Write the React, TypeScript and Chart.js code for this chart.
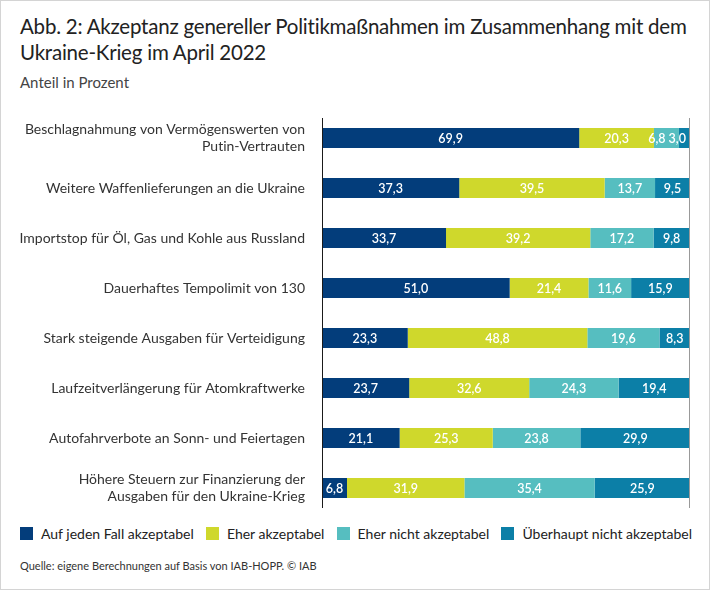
import React, { useEffect, useRef } from "react";
import { Chart, registerables } from "chart.js";

Chart.register(...registerables);

const FONT = "Lato, 'Open Sans', sans-serif";

const titleText = "Abb. 2: Akzeptanz genereller Politikmaßnahmen im Zusammenhang mit dem Ukraine-Krieg im April 2022";
const subtitleText = "Anteil in Prozent";
const sourceText = "Quelle: eigene Berechnungen auf Basis von IAB-HOPP. © IAB";

const categories: string[][] = [
  ["Beschlagnahmung von Vermögenswerten von", "Putin-Vertrauten"],
  ["Weitere Waffenlieferungen an die Ukraine"],
  ["Importstop für Öl, Gas und Kohle aus Russland"],
  ["Dauerhaftes Tempolimit von 130"],
  ["Stark steigende Ausgaben für Verteidigung"],
  ["Laufzeitverlängerung für Atomkraftwerke"],
  ["Autofahrverbote an Sonn- und Feiertagen"],
  ["Höhere Steuern zur Finanzierung der", "Ausgaben für den Ukraine-Krieg"],
];

const seriesNames = [
  "Auf jeden Fall akzeptabel",
  "Eher akzeptabel",
  "Eher nicht akzeptabel",
  "Überhaupt nicht akzeptabel",
];
const seriesColors = ["#033d7b", "#cfd82c", "#56bec0", "#0c7fa7"];

const aufJedenFall = [69.9, 37.3, 33.7, 51.0, 23.3, 23.7, 21.1, 6.8];
const eherAkzeptabel = [20.3, 39.5, 39.2, 21.4, 48.8, 32.6, 25.3, 31.9];
const eherNicht = [6.8, 13.7, 17.2, 11.6, 19.6, 24.3, 23.8, 35.4];
const ueberhauptNicht = [3.0, 9.5, 9.8, 15.9, 8.3, 19.4, 29.9, 25.9];

const seriesValues = [aufJedenFall, eherAkzeptabel, eherNicht, ueberhauptNicht];

const fmt = (v: number) => v.toFixed(1).replace(".", ",");

const labelPlugin = {
  id: "segLabels",
  afterDatasetsDraw(chart: any) {
    const ctx = chart.ctx;
    const right = chart.chartArea.right;
    ctx.save();
    ctx.fillStyle = "#ffffff";
    ctx.font = `600 12.5px ${FONT}`;
    ctx.textAlign = "center";
    ctx.textBaseline = "middle";
    const n = chart.data.labels.length;
    for (let i = 0; i < n; i++) {
      const items: { text: string; cx: number; w: number; y: number }[] = [];
      chart.data.datasets.forEach((ds: any, di: number) => {
        const el = chart.getDatasetMeta(di).data[i];
        const text = fmt(ds.data[i]);
        items.push({ text, cx: (el.x + el.base) / 2, w: ctx.measureText(text).width, y: el.y });
      });
      // keep inside right edge and avoid overlaps
      for (let k = items.length - 1; k >= 0; k--) {
        const it = items[k];
        const limit = k === items.length - 1 ? right - 4 : items[k + 1].cx - items[k + 1].w / 2 - 3;
        if (it.cx + it.w / 2 > limit) it.cx = limit - it.w / 2;
      }
      items.forEach((it) => ctx.fillText(it.text, it.cx, it.y + 0.5));
    }
    ctx.restore();
  },
};

const axisLinesPlugin = {
  id: "axisLines",
  afterDraw(chart: any) {
    const { ctx, chartArea } = chart;
    ctx.save();
    ctx.lineWidth = 1;
    ctx.strokeStyle = "#999999";
    ctx.beginPath();
    ctx.moveTo(Math.round(chartArea.right) - 0.5, chartArea.top + 5);
    ctx.lineTo(Math.round(chartArea.right) - 0.5, chartArea.bottom - 5);
    ctx.stroke();
    ctx.strokeStyle = "#1a1a1a";
    ctx.beginPath();
    ctx.moveTo(Math.round(chartArea.left) + 0.5, chartArea.top + 5);
    ctx.lineTo(Math.round(chartArea.left) + 0.5, chartArea.bottom - 5);
    ctx.stroke();
    ctx.restore();
  },
};

export default function App() {
  const ref = useRef<HTMLCanvasElement | null>(null);

  useEffect(() => {
    if (!ref.current) return;
    const chart = new Chart(ref.current, {
      type: "bar",
      data: {
        labels: categories,
        datasets: seriesNames.map((name, i) => ({
          label: name,
          data: seriesValues[i],
          backgroundColor: seriesColors[i],
          borderWidth: 0,
          barPercentage: 0.4,
          categoryPercentage: 1,
        })),
      },
      options: {
        indexAxis: "y",
        responsive: false,
        animation: false,
        layout: { padding: { left: 0, right: 20, top: 0, bottom: 0 } },
        plugins: {
          legend: { display: false },
          tooltip: { enabled: false },
          title: { display: false },
        },
        scales: {
          x: {
            stacked: true,
            min: 0,
            max: 100,
            display: false,
          },
          y: {
            stacked: true,
            grid: { display: false, drawTicks: false },
            border: { display: false },
            afterFit: (s: any) => {
              s.width = 322;
              s.paddingTop = 0;
              s.paddingBottom = 0;
            },
            ticks: {
              padding: 17,
              color: "#333333",
              font: { family: FONT, size: 14, lineHeight: 1.22 },
            },
          },
        },
      },
      plugins: [labelPlugin, axisLinesPlugin],
    } as any);
    return () => chart.destroy();
  }, []);

  return (
    <div
      style={{
        position: "fixed",
        left: 0,
        top: 0,
        width: 710,
        height: 590,
        background: "#ffffff",
        fontFamily: FONT,
        overflow: "hidden",
        fontVariantLigatures: "none",
      }}
    >
      <div
        style={{
          position: "absolute",
          left: 20,
          top: 13,
          width: 685,
          fontSize: 20.5,
          letterSpacing: -0.22,
          lineHeight: "26px",
          color: "#222222",
        }}
      >
        {titleText}
      </div>
      <div
        style={{
          position: "absolute",
          left: 20,
          top: 72,
          fontSize: 15,
          lineHeight: "20px",
          color: "#444444",
        }}
      >
        {subtitleText}
      </div>
      <canvas
        ref={ref}
        width={710}
        height={400}
        style={{ position: "absolute", left: 0, top: 113, width: 710, height: 400 }}
      />
      <div
        style={{
          position: "absolute",
          left: 20,
          right: 18,
          top: 523,
          height: 20,
          display: "flex",
          justifyContent: "space-between",
          alignItems: "center",
          fontSize: 14,
          color: "#222222",
        }}
      >
        {seriesNames.map((n, i) => (
          <div key={n} style={{ display: "flex", alignItems: "center" }}>
            <span
              style={{
                display: "inline-block",
                width: 13,
                height: 13,
                background: seriesColors[i],
                marginRight: 8,
              }}
            />
            <span>{n}</span>
          </div>
        ))}
      </div>
      <div
        style={{
          position: "absolute",
          left: 20,
          top: 557,
          fontSize: 11,
          lineHeight: "18px",
          color: "#333333",
        }}
      >
        {sourceText}
      </div>
      <div
        style={{
          position: "absolute",
          left: 0,
          top: 0,
          width: 710,
          height: 590,
          boxSizing: "border-box",
          border: "1px solid #d4d4d4",
          pointerEvents: "none",
        }}
      />
    </div>
  );
}
